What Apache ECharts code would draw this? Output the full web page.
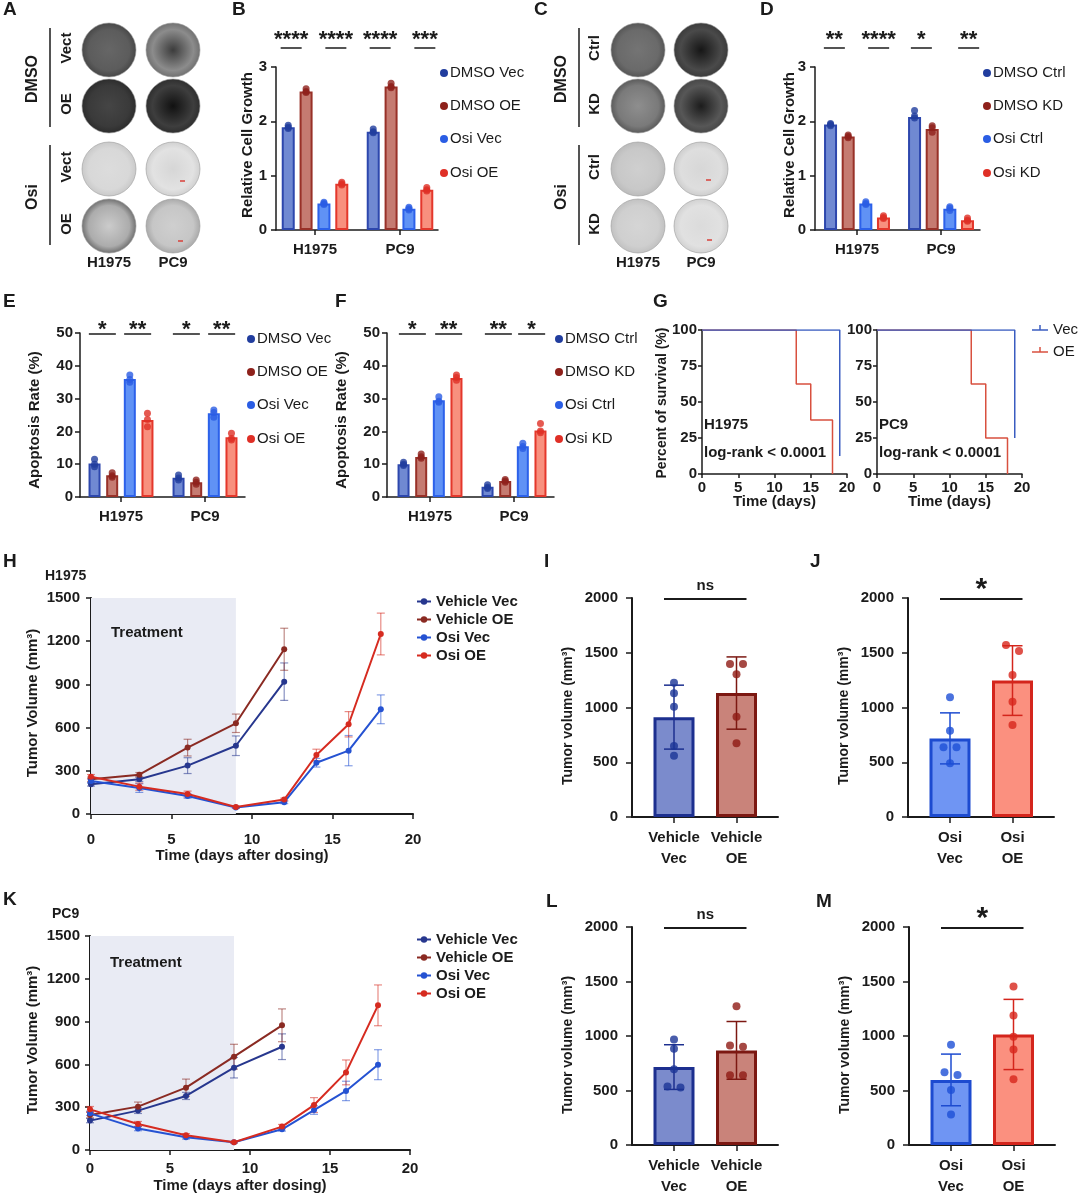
<!DOCTYPE html>
<html><head><meta charset="utf-8">
<script src="https://cdn.jsdelivr.net/npm/echarts@6/dist/echarts.min.js"></script>
<style>html,body{margin:0;padding:0;background:#fff}#c{width:1080px;height:1197px}</style>
</head><body><div id="c"></div><script>
// ================= DATA =================
const cellLines = ['H1975', 'PC9'];

// B: relative cell growth (OE)
const groupsB = ['DMSO Vec', 'DMSO OE', 'Osi Vec', 'Osi OE'];
const growthB = [[1.89, 2.55, 0.49, 0.85], [1.81, 2.64, 0.39, 0.74]];
const growthDotsB = [
  [[1.93, 1.89, 1.87], [2.60, 2.55, 2.53], [0.51, 0.49, 0.47], [0.88, 0.85, 0.83]],
  [[1.86, 1.81, 1.79], [2.70, 2.64, 2.62], [0.42, 0.39, 0.37], [0.78, 0.74, 0.72]]
];
const sigB = [[0, 0, 1, '****'], [0, 2, 3, '****'], [1, 0, 1, '****'], [1, 2, 3, '***']];

// D: relative cell growth (KD)
const groupsD = ['DMSO Ctrl', 'DMSO KD', 'Osi Ctrl', 'Osi KD'];
const growthD = [[1.94, 1.72, 0.49, 0.23], [2.08, 1.86, 0.39, 0.18]];
const growthDotsD = [
  [[1.96, 1.94, 1.92], [1.75, 1.72, 1.70], [0.52, 0.49, 0.47], [0.26, 0.23, 0.21]],
  [[2.20, 2.10, 2.06], [1.92, 1.88, 1.80], [0.43, 0.40, 0.36], [0.22, 0.18, 0.16]]
];
const sigD = [[0, 0, 1, '**'], [0, 2, 3, '****'], [1, 0, 1, '*'], [1, 2, 3, '**']];

// E: apoptosis (OE)
const groupsE = ['DMSO Vec', 'DMSO OE', 'Osi Vec', 'Osi OE'];
const apoptosisE = [[10.2, 6.6, 36.0, 23.5], [5.9, 4.5, 25.5, 18.2]];
const apoptosisDotsE = [
  [[11.5, 10.0, 9.2], [7.4, 6.5, 6.0], [37.2, 35.8, 35.0], [25.5, 23.6, 21.4]],
  [[6.7, 5.8, 5.2], [5.2, 4.5, 3.9], [26.5, 25.8, 24.3], [19.4, 17.8, 17.4]]
];
const sigE = [[0, 0, 1, '*'], [0, 2, 3, '**'], [1, 0, 1, '*'], [1, 2, 3, '**']];

// F: apoptosis (KD)
const groupsF = ['DMSO Ctrl', 'DMSO KD', 'Osi Ctrl', 'Osi KD'];
const apoptosisF = [[10.0, 12.2, 29.5, 36.3], [3.1, 4.9, 15.5, 20.3]];
const apoptosisDotsF = [
  [[10.6, 10.0, 9.6], [13.1, 12.3, 11.8], [30.6, 29.2, 28.9], [37.2, 36.4, 35.6]],
  [[3.7, 3.0, 2.6], [5.3, 4.9, 4.5], [16.4, 15.4, 14.8], [22.4, 20.1, 19.6]]
];
const sigF = [[0, 0, 1, '*'], [0, 2, 3, '**'], [1, 0, 1, '**'], [1, 2, 3, '*']];

// G: Kaplan-Meier survival
const kmGroups = ['Vec', 'OE'];
const survTimeH1975Vec = [0, 19],          survH1975Vec = [100, 12.5];
const survTimeH1975OE  = [0, 13, 15, 18],  survH1975OE  = [100, 62.5, 37.5, 0];
const survTimePC9Vec   = [0, 19],          survPC9Vec   = [100, 25];
const survTimePC9OE    = [0, 13, 15, 18],  survPC9OE    = [100, 62.5, 25, 0];

// H / K: tumor growth curves
const growthSeriesNames = ['Vehicle Vec', 'Vehicle OE', 'Osi Vec', 'Osi OE'];
const daysVehicle = [0, 3, 6, 9, 12];
const daysOsi = [0, 3, 6, 9, 12, 14, 16, 18];
const treatmentDays = [0, 9];
const volH_vehVec = [206, 241, 336, 474, 919],  sdH_vehVec = [12, 15, 55, 68, 130];
const volH_vehOE  = [241, 273, 461, 630, 1144], sdH_vehOE  = [15, 15, 58, 64, 146];
const volH_osiVec = [229, 180, 125, 45, 82, 356, 440, 727],  sdH_osiVec = [15, 30, 15, 6, 10, 30, 105, 100];
const volH_osiOE  = [259, 190, 139, 48, 100, 410, 623, 1250], sdH_osiOE = [15, 25, 20, 6, 10, 40, 88, 145];
const volK_vehVec = [206, 276, 379, 577, 724],  sdK_vehVec = [15, 20, 25, 72, 90];
const volK_vehOE  = [245, 304, 437, 654, 874],  sdK_vehOE  = [20, 32, 60, 87, 115];
const volK_osiVec = [257, 150, 89, 54, 145, 280, 414, 598],  sdK_osiVec = [15, 15, 12, 5, 12, 30, 68, 105];
const volK_osiOE  = [285, 182, 103, 54, 164, 315, 544, 1014], sdK_osiOE = [20, 18, 12, 5, 15, 52, 87, 143];

// I, J, L, M: end-point tumor volume
const labelsVehicle = ['Vehicle\nVec', 'Vehicle\nOE'];
const labelsOsi = ['Osi\nVec', 'Osi\nOE'];
const meanI = [912, 1132], sdI = [292, 330];
const dotsI = [[1227, 1130, 1007, 648, 560], [1397, 1397, 1303, 916, 673]];
const meanJ = [718, 1246], sdJ = [233, 318];
const dotsJ = [[1093, 788, 636, 636, 490], [1571, 1516, 1297, 1053, 840]];
const meanL = [715, 868], sdL = [205, 265];
const dotsL = [[968, 883, 694, 536, 527], [1272, 913, 901, 639, 639]];
const meanM = [597, 1014], sdM = [237, 322];
const dotsM = [[920, 667, 642, 505, 280], [1455, 1187, 993, 877, 603]];

// ================= STYLE =================
const FONT = '"Liberation Sans", Arial, Helvetica, sans-serif';
const INK = '#1b1b1b';
const fill4 = ['#7089d2', '#c57b71', '#6092f5', '#f8907e'];
const edge4 = ['#2d47ad', '#983128', '#2c61ea', '#e4372b'];
const dot4  = ['#213d9e', '#8e211b', '#2a5de4', '#df2f26'];
const lineCol = ['#27378e', '#8a2a22', '#2552d2', '#d62b20'];
const kmCol = ['#3a5cc0', '#d8503f'];
const plain = v => String(v);

const grids = [], xAxes = [], yAxes = [], series = [], graphics = [];
function addGrid(rect, x, y) {
  grids.push(Object.assign({containLabel: false}, rect));
  const i = grids.length - 1;
  xAxes.push(Object.assign({gridIndex: i}, x));
  yAxes.push(Object.assign({gridIndex: i}, y));
  return i;
}
const lab = (size, extra) => Object.assign({fontFamily: FONT, fontWeight: 'bold', fontSize: size, color: INK}, extra || {});
const axLine = (w) => ({show: true, onZero: false, lineStyle: {color: INK, width: w}});
const axTick = (len, w, extra) => Object.assign({show: true, length: len, lineStyle: {color: INK, width: w}}, extra || {});

function txt(x, y, text, size, weight, opt) {
  opt = opt || {};
  const el = {type: 'text', x: x, y: y, silent: true, z: 50,
    style: {text: text, fill: opt.fill || INK, font: `${weight} ${size}px ${FONT}`,
      align: opt.align || 'center', verticalAlign: 'middle'}};
  if (opt.rotate) el.rotation = Math.PI / 2;
  return el;
}
function jitter(vals, thr, px) {
  return vals.map((v, i) => {
    for (let j = 0; j < vals.length; j++) {
      if (j !== i && Math.abs(vals[j] - v) < thr) return [j > i ? -px : px, 0];
    }
    return [0, 0];
  });
}

// ---------- grouped bar panels (B, D, E, F) ----------
const groupOffsets = [-0.315, -0.105, 0.105, 0.315];
function groupedBarPanel(c) {
  const centers = cellLines.map((_, i) => i + 0.5);
  const gi = addGrid({left: c.left, top: c.top, width: c.width, height: c.height},
    {type: 'value', min: c.xMin, max: c.xMax, axisLine: axLine(1.5),
     axisTick: axTick(5, 1.5, {customValues: centers}),
     axisLabel: lab(15, {customValues: centers, margin: 12, formatter: v => cellLines[Math.round(v - 0.5)]}),
     splitLine: {show: false}},
    {type: 'value', min: 0, max: c.yMax, interval: c.yInterval, axisLine: axLine(1.5),
     axisTick: axTick(5, 1.5), axisLabel: lab(15, {margin: c.yMargin, formatter: plain}), splitLine: {show: false}});
  const bars = [], dots = [];
  cellLines.forEach((_, ci) => c.groups.forEach((_, g) => {
    const x = ci + 0.5 + groupOffsets[g];
    bars.push({value: [x, c.means[ci][g]], itemStyle: {color: fill4[g], borderColor: edge4[g], borderWidth: 2}});
    c.dots[ci][g].forEach(v => dots.push({value: [x, v], itemStyle: {color: dot4[g]}}));
  }));
  series.push({type: 'bar', xAxisIndex: gi, yAxisIndex: gi, barWidth: c.barWidth, data: bars, z: 2, silent: true});
  series.push({type: 'scatter', xAxisIndex: gi, yAxisIndex: gi, symbolSize: 7, data: dots, z: 3, silent: true});
  series.push({type: 'custom', xAxisIndex: gi, yAxisIndex: gi, clip: false, silent: true, z: 5,
    encode: {x: 0, y: 1},
    data: c.sig.map(s => [s[0] + 0.5 + groupOffsets[s[1]], c.yMax, s[0] + 0.5 + groupOffsets[s[2]]]),
    renderItem: (params, api) => {
      const a = api.coord([api.value(0), api.value(1)]);
      const b = api.coord([api.value(2), api.value(1)]);
      const mid = (a[0] + b[0]) / 2 + c.sigShift[params.dataIndex], y = a[1] + c.sigDy;
      return {type: 'group', children: [
        {type: 'line', shape: {x1: mid - c.sigHalf, y1: y, x2: mid + c.sigHalf, y2: y}, style: {stroke: INK, lineWidth: 1.5}},
        {type: 'text', x: mid, y: y + c.starDy, style: {text: c.sig[params.dataIndex][3], fill: INK,
          font: `bold 22px ${FONT}`, align: 'center', verticalAlign: 'middle'}}
      ]};
    }});
  // legend + axis title
  c.groups.forEach((name, g) => {
    graphics.push({type: 'circle', shape: {cx: c.legX, cy: c.legY[g], r: 4}, style: {fill: dot4[g]}, silent: true});
    graphics.push(txt(c.legX + 6, c.legY[g], name, 15, 'normal', {align: 'left'}));
  });
  graphics.push(txt(c.yTitleX, c.yTitleY, c.yTitle, 15, 'bold', {rotate: true}));
}

groupedBarPanel({left: 276, top: 67, width: 162, height: 163, xMin: 0.041, xMax: 1.947, yMax: 3, yInterval: 1, yMargin: 9,
  groups: groupsB, means: growthB, dots: growthDotsB, sig: sigB, barWidth: 13, sigDy: -19, sigHalf: 10.5, starDy: -8,
  sigShift: [-6, 3, -2, 7],
  legX: 444, legY: [73, 106, 139, 173], yTitle: 'Relative Cell Growth', yTitleX: 248, yTitleY: 145});
groupedBarPanel({left: 815, top: 67, width: 165, height: 163, xMin: 0.0, xMax: 1.964, yMax: 3, yInterval: 1, yMargin: 9,
  groups: groupsD, means: growthD, dots: growthDotsD, sig: sigD, barWidth: 13, sigDy: -19, sigHalf: 10.5, starDy: -8,
  sigShift: [-5, 4, -2, 10],
  legX: 987, legY: [73, 106, 139, 173], yTitle: 'Relative Cell Growth', yTitleX: 790, yTitleY: 145});
groupedBarPanel({left: 80, top: 333, width: 165, height: 164, xMin: 0.012, xMax: 1.976, yMax: 50, yInterval: 10, yMargin: 7,
  groups: groupsE, means: apoptosisE, dots: apoptosisDotsE, sig: sigE, barWidth: 12, sigDy: 1, sigHalf: 13.5, starDy: -4,
  sigShift: [-1, -1, -1, -1],
  legX: 251, legY: [339, 372, 405, 439], yTitle: 'Apoptosis Rate (%)', yTitleX: 35, yTitleY: 420});
groupedBarPanel({left: 387, top: 333, width: 167, height: 164, xMin: -0.012, xMax: 1.976, yMax: 50, yInterval: 10, yMargin: 7,
  groups: groupsF, means: apoptosisF, dots: apoptosisDotsF, sig: sigF, barWidth: 12, sigDy: 1, sigHalf: 13.5, starDy: -4,
  sigShift: [0, 1, 2, 0],
  legX: 559, legY: [339, 372, 405, 439], yTitle: 'Apoptosis Rate (%)', yTitleX: 342, yTitleY: 420});

// ---------- G: Kaplan-Meier ----------
function kmPanel(c) {
  const gi = addGrid({left: c.left, top: 330, width: 145, height: 144},
    {type: 'value', min: 0, max: 20, interval: 5, axisLine: axLine(1.5), axisTick: axTick(4, 1.5),
     axisLabel: lab(15, {margin: 6}), splitLine: {show: false}},
    {type: 'value', min: 0, max: 100, interval: 25, axisLine: axLine(1.5), axisTick: axTick(4, 1.5),
     axisLabel: lab(15, {margin: 5}), splitLine: {show: false}});
  [[c.tVec, c.sVec], [c.tOE, c.sOE]].forEach((d, k) => {
    series.push({type: 'line', name: kmGroups[k], xAxisIndex: gi, yAxisIndex: gi, step: 'end', symbol: 'none',
      data: d[0].map((t, i) => [t, d[1][i]]), lineStyle: {color: kmCol[k], width: 1.5}, z: 3 - k, silent: true});
  });
  graphics.push(txt(c.left + 2, 425, c.title, 15, 'bold', {align: 'left'}));
  graphics.push(txt(c.left + 2, 453, 'log-rank < 0.0001', 15, 'bold', {align: 'left'}));
  graphics.push(txt(c.left + 72.5, 502, 'Time (days)', 15, 'bold'));
}
kmPanel({left: 702, title: 'H1975', tVec: survTimeH1975Vec, sVec: survH1975Vec, tOE: survTimeH1975OE, sOE: survH1975OE});
kmPanel({left: 877, title: 'PC9', tVec: survTimePC9Vec, sVec: survPC9Vec, tOE: survTimePC9OE, sOE: survPC9OE});
graphics.push(txt(662, 403, 'Percent of survival (%)', 14, 'bold', {rotate: true}));
kmGroups.forEach((name, k) => {
  const y = 330 + k * 22;
  graphics.push({type: 'line', shape: {x1: 1032, y1: y, x2: 1048, y2: y}, style: {stroke: kmCol[k], lineWidth: 1.5}, silent: true});
  graphics.push({type: 'line', shape: {x1: 1040, y1: y - 5, x2: 1040, y2: y}, style: {stroke: kmCol[k], lineWidth: 1.5}, silent: true});
  graphics.push(txt(1053, y, name, 15, 'normal', {align: 'left'}));
});

// ---------- H / K: growth curves ----------
function curvePanel(c) {
  const gi = addGrid({left: c.left, top: c.top, width: c.width, height: c.height},
    {type: 'value', min: 0, max: 20, interval: 5, axisLine: axLine(2), axisTick: axTick(5, 1.5),
     axisLabel: lab(15, {margin: c.xMargin}), splitLine: {show: false}},
    {type: 'value', min: 0, max: 1500, interval: 300, axisLine: axLine(2), axisTick: axTick(5, 1.5),
     axisLabel: lab(15, {margin: c.yMargin, formatter: plain}), splitLine: {show: false}});
  c.sets.forEach((s, k) => {
    const days = k < 2 ? daysVehicle : daysOsi;
    const ser = {type: 'line', name: growthSeriesNames[k], xAxisIndex: gi, yAxisIndex: gi,
      data: days.map((d, i) => [d, s[0][i]]), symbol: 'circle', symbolSize: 6,
      itemStyle: {color: lineCol[k]}, lineStyle: {color: lineCol[k], width: 2}, z: 4 + k, silent: true};
    if (k === 0) ser.markArea = {silent: true, itemStyle: {color: '#e9ebf4'},
      data: [[{xAxis: treatmentDays[0]}, {xAxis: treatmentDays[1]}]]};
    series.push(ser);
    series.push({type: 'custom', xAxisIndex: gi, yAxisIndex: gi, silent: true, z: 3, encode: {x: 0, y: 1},
      data: days.map((d, i) => [d, s[0][i], s[1][i]]),
      renderItem: (params, api) => {
        const top = api.coord([api.value(0), api.value(1) + api.value(2)]);
        const bot = api.coord([api.value(0), api.value(1) - api.value(2)]);
        const st = {stroke: lineCol[k], lineWidth: 1.2, opacity: 0.55};
        return {type: 'group', children: [
          {type: 'line', shape: {x1: top[0], y1: top[1], x2: bot[0], y2: bot[1]}, style: st},
          {type: 'line', shape: {x1: top[0] - 4, y1: top[1], x2: top[0] + 4, y2: top[1]}, style: st},
          {type: 'line', shape: {x1: bot[0] - 4, y1: bot[1], x2: bot[0] + 4, y2: bot[1]}, style: st}
        ]};
      }});
  });
  graphics.push(txt(c.left + c.width / 2 - 10, c.titleY, 'Time (days after dosing)', 15, 'bold'));
  graphics.push(txt(33, c.top + c.height / 2 - 3, 'Tumor Volume (mm³)', 15, 'bold', {rotate: true}));
  graphics.push(txt(c.left + 20, c.treatY, 'Treatment', 15, 'bold', {align: 'left'}));
  graphics.push(txt(c.nameX, c.top - 22, c.cell, 14, 'bold', {align: 'left'}));
}
curvePanel({left: 91, top: 598, width: 322, height: 216, xMargin: 18, yMargin: 11, titleY: 856, treatY: 633, nameX: 45, cell: 'H1975',
  sets: [[volH_vehVec, sdH_vehVec], [volH_vehOE, sdH_vehOE], [volH_osiVec, sdH_osiVec], [volH_osiOE, sdH_osiOE]]});
curvePanel({left: 90, top: 936, width: 320, height: 214, xMargin: 11, yMargin: 10, titleY: 1186, treatY: 963, nameX: 52, cell: 'PC9',
  sets: [[volK_vehVec, sdK_vehVec], [volK_vehOE, sdK_vehOE], [volK_osiVec, sdK_osiVec], [volK_osiOE, sdK_osiOE]]});

// ---------- I, J, L, M: end-point bars ----------
const volFill = {veh: ['#7b8bcc', '#c9837a'], osi: ['#6f95f3', '#fb907f']};
const volEdge = {veh: ['#1c2f8f', '#7c1812'], osi: ['#1d4bd0', '#d4251c']};
const volDot  = {veh: ['#1c3596', '#8f1a14'], osi: ['#1d4fd6', '#d7261c']};
function volPanel(c) {
  const pos = [0, 1];
  const gi = addGrid({left: c.left, top: c.top, width: 146, height: 219},
    {type: 'value', min: -0.672, max: 1.664, axisLine: axLine(2), axisTick: axTick(6, 1.5, {customValues: pos}),
     axisLabel: lab(15, {customValues: pos, margin: 10, lineHeight: 21, formatter: v => c.labels[Math.round(v)]}),
     splitLine: {show: false}},
    {type: 'value', min: 0, max: 2000, interval: 500, axisLine: axLine(2), axisTick: axTick(6, 1.5),
     axisLabel: lab(15, {margin: 14, formatter: plain}), splitLine: {show: false}});
  const F = volFill[c.kind], E = volEdge[c.kind], D = volDot[c.kind];
  series.push({type: 'bar', xAxisIndex: gi, yAxisIndex: gi, barWidth: 41, silent: true, z: 2,
    data: c.mean.map((m, i) => ({value: [i, m], itemStyle: {color: F[i], borderColor: E[i], borderWidth: 3}}))});
  series.push({type: 'custom', xAxisIndex: gi, yAxisIndex: gi, silent: true, z: 3, encode: {x: 0, y: 1},
    data: c.mean.map((m, i) => [i, m, c.sd[i]]),
    renderItem: (params, api) => {
      const i = params.dataIndex;
      const top = api.coord([api.value(0), api.value(1) + api.value(2)]);
      const bot = api.coord([api.value(0), api.value(1) - api.value(2)]);
      const st = {stroke: E[i], lineWidth: 1.5};
      return {type: 'group', children: [
        {type: 'line', shape: {x1: top[0], y1: top[1], x2: bot[0], y2: bot[1]}, style: st},
        {type: 'line', shape: {x1: top[0] - 10, y1: top[1], x2: top[0] + 10, y2: top[1]}, style: st},
        {type: 'line', shape: {x1: bot[0] - 10, y1: bot[1], x2: bot[0] + 10, y2: bot[1]}, style: st}
      ]};
    }});
  const pts = [];
  c.dots.forEach((arr, i) => {
    const off = jitter(arr, 60, 6.5);
    arr.forEach((v, k) => pts.push({value: [i, v], symbolOffset: off[k], itemStyle: {color: D[i]}}));
  });
  series.push({type: 'scatter', xAxisIndex: gi, yAxisIndex: gi, symbolSize: 8, silent: true, z: 4, data: pts});
  series.push({type: 'custom', xAxisIndex: gi, yAxisIndex: gi, clip: false, silent: true, z: 5, encode: {x: 0, y: 1},
    data: [[0, 2000, 1]],
    renderItem: (params, api) => {
      const a = api.coord([api.value(0), api.value(1)]);
      const b = api.coord([api.value(2), api.value(1)]);
      const y = a[1] + 1;
      const big = c.sig !== 'ns';
      return {type: 'group', children: [
        {type: 'line', shape: {x1: a[0] - 10, y1: y, x2: b[0] + 10, y2: y}, style: {stroke: INK, lineWidth: 2}},
        {type: 'text', x: (a[0] + b[0]) / 2, y: big ? y - 9 : y - 13, style: {text: c.sig, fill: INK,
          font: `bold ${big ? 30 : 15}px ${FONT}`, align: 'center', verticalAlign: 'middle'}}
      ]};
    }});
  graphics.push(txt(c.left - 64, c.top + 118, 'Tumor volume (mm³)', 14, 'bold', {rotate: true}));
}
volPanel({left: 632, top: 598, kind: 'veh', labels: labelsVehicle, mean: meanI, sd: sdI, dots: dotsI, sig: 'ns'});
volPanel({left: 908, top: 598, kind: 'osi', labels: labelsOsi, mean: meanJ, sd: sdJ, dots: dotsJ, sig: '*'});
volPanel({left: 632, top: 927, kind: 'veh', labels: labelsVehicle, mean: meanL, sd: sdL, dots: dotsL, sig: 'ns'});
volPanel({left: 909, top: 927, kind: 'osi', labels: labelsOsi, mean: meanM, sd: sdM, dots: dotsM, sig: '*'});

// ---------- A / C: colony plates ----------
const plateRowY = [50, 106, 169, 226];
function platePanel(c) {
  c.shades.forEach((row, r) => row.forEach((sh, k) => {
    graphics.push({type: 'circle', silent: true, z: 1, shape: {cx: c.xs[k], cy: plateRowY[r], r: 27},
      style: {fill: new echarts.graphic.RadialGradient(0.5, 0.5, 0.5, [
        {offset: 0, color: sh[0]}, {offset: 0.75, color: sh[1]}, {offset: 1, color: sh[2]}]),
        stroke: '#9a9a9a', lineWidth: 0.6}});
  }));
  c.rowLabels.forEach((t, r) => graphics.push(txt(c.rowX, plateRowY[r] - 2, t, 15, 'bold', {rotate: true})));
  graphics.push(txt(c.treatX, 79, 'DMSO', 16, 'bold', {rotate: true}));
  graphics.push(txt(c.treatX, 197, 'Osi', 16, 'bold', {rotate: true}));
  graphics.push({type: 'line', silent: true, shape: {x1: c.lineX, y1: 28, x2: c.lineX, y2: 127}, style: {stroke: INK, lineWidth: 1.5}});
  graphics.push({type: 'line', silent: true, shape: {x1: c.lineX, y1: 145, x2: c.lineX, y2: 245}, style: {stroke: INK, lineWidth: 1.5}});
  cellLines.forEach((n, k) => graphics.push(txt(c.xs[k], 263, n, 15, 'bold')));
  c.redMarks.forEach(m => graphics.push({type: 'line', silent: true, z: 2,
    shape: {x1: m[0], y1: m[1], x2: m[0] + 5, y2: m[1]}, style: {stroke: '#d9403a', lineWidth: 1.5}}));
}
platePanel({xs: [109, 173], rowX: 67, treatX: 33, lineX: 50, rowLabels: ['Vect', 'OE', 'Vect', 'OE'],
  redMarks: [[180, 181], [178, 241]],
  shades: [
    [['#666', '#5c5c5c', '#474747'], ['#3c3c3c', '#8c8c8c', '#707070']],
    [['#454545', '#3a3a3a', '#2c2c2c'], ['#111', '#3e3e3e', '#2e2e2e']],
    [['#dcdcdc', '#d8d8d8', '#c9c9c9'], ['#d6d6d6', '#e2e2e2', '#d0d0d0']],
    [['#cbcbcb', '#acacac', '#707070'], ['#cfcfcf', '#c6c6c6', '#a9a9a9']]]});
platePanel({xs: [638, 701], rowX: 595, treatX: 562, lineX: 579, rowLabels: ['Ctrl', 'KD', 'Ctrl', 'KD'],
  redMarks: [[706, 180], [707, 240]],
  shades: [
    [['#747474', '#6a6a6a', '#555'], ['#161616', '#4a4a4a', '#3b3b3b']],
    [['#8e8e8e', '#7a7a7a', '#5a5a5a'], ['#1c1c1c', '#575757', '#474747']],
    [['#cfcfcf', '#c8c8c8', '#bbb'], ['#d7d7d7', '#dedede', '#cdcdcd']],
    [['#d5d5d5', '#cfcfcf', '#c1c1c1'], ['#dbdbdb', '#e1e1e1', '#d1d1d1']]]});

// ---------- panel letters ----------
[['A', 3, 10], ['B', 232, 10], ['C', 534, 10], ['D', 760, 10],
 ['E', 3, 302], ['F', 335, 302], ['G', 653, 302],
 ['H', 3, 562], ['I', 544, 562], ['J', 810, 562],
 ['K', 3, 900], ['L', 546, 902], ['M', 816, 902]].forEach(p => graphics.push(txt(p[1], p[2], p[0], 19, 'bold', {align: 'left'})));

// ================= CHART =================
const chart = echarts.init(document.getElementById('c'));
const legendBase = {data: growthSeriesNames, left: 416, padding: 0, orient: 'vertical', itemGap: 3, itemWidth: 14, itemHeight: 8,
  selectedMode: false, textStyle: {fontFamily: FONT, fontWeight: 'bold', fontSize: 15, color: INK}};
chart.setOption({
  animation: false,
  backgroundColor: '#ffffff',
  textStyle: {fontFamily: FONT},
  grid: grids, xAxis: xAxes, yAxis: yAxes, series: series,
  legend: [Object.assign({top: 594}, legendBase), Object.assign({top: 932}, legendBase)],
  graphic: graphics
});
</script></body></html>
